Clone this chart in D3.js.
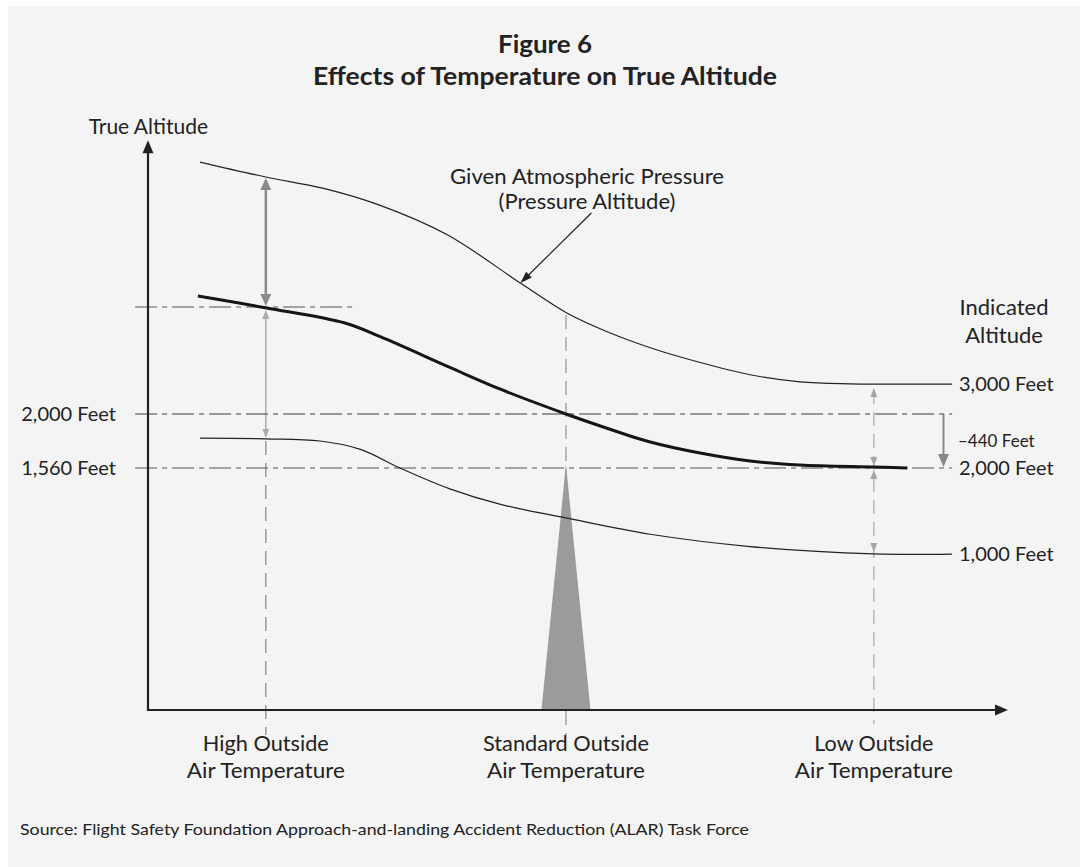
<!DOCTYPE html>
<html><head><meta charset="utf-8">
<script src="https://cdn.jsdelivr.net/npm/d3@7"></script>
<style>body{margin:0;background:#fff}svg{display:block}text{font-family:Lato,"Open Sans",sans-serif;fill:#222}</style>
</head><body><div id="chart"></div>
<script>
// ---- data ----
const title = ["Figure 6", "Effects of Temperature on True Altitude"];
const categories = [["High Outside","Air Temperature"],["Standard Outside","Air Temperature"],["Low Outside","Air Temperature"]];
const categoryPos = [13.7, 48.6, 84.4];           // position along temperature axis (0-100)
const indicatedLabels = ["3,000 Feet","2,000 Feet","1,000 Feet"];
// true altitude curves [temperature position, feet]
const curve3000 = [[6.05,4053],[13.7,3931],[20.3,3840],[27.0,3700],[34.8,3460],[43.3,3067],[48.7,2823],[53.4,2670],[58.4,2540],[64.2,2420],[70.0,2320],[75.8,2262],[81.6,2246],[93.5,2244]];
const curve2000 = [[5.8,2961],[13.8,2864],[22.9,2741],[27.0,2630],[35.1,2380],[40.9,2204],[48.6,2000],[52.6,1902],[58.4,1772],[64.2,1682],[70.0,1617],[75.8,1584],[84.4,1568],[88.3,1560]];
const curve1000 = [[6.05,1804],[13.7,1798],[20.0,1780],[24.7,1712],[29.3,1560],[35.1,1390],[40.9,1265],[48.6,1153],[58.4,1020],[70.0,920],[84.4,860],[93.5,859]];
const refLevels = [2000, 1560];                    // feet
const refLabels = ["2,000 Feet","1,560 Feet"];
const highLevel = 2872;                            // true altitude of 2,000 ft at high temp
const correction = "\u2013440 Feet";
const sourceText = "Source: Flight Safety Foundation Approach-and-landing Accident Reduction (ALAR) Task Force";

// ---- layout ----
const W = 1080, H = 867;
const svg = d3.select("#chart").append("svg").attr("width", W).attr("height", H);
svg.append("rect").attr("x", 8).attr("y", 6).attr("width", W - 8).attr("height", H - 6).attr("fill", "#f4f4f4");

const x = d3.scaleLinear().domain([0, 100]).range([148, 1008]);
const y = d3.scaleLinear().domain([1560, 2000]).range([468, 414]);
const yAxisBottom = -412, yAxisTop = 4230;

const g = svg.append("g");

function arrowHead(px, py, dir, len, wid, color) {
  let pts;
  if (dir === "up") pts = [[px, py], [px - wid / 2, py + len], [px + wid / 2, py + len]];
  if (dir === "down") pts = [[px, py], [px - wid / 2, py - len], [px + wid / 2, py - len]];
  if (dir === "right") pts = [[px, py], [px - len, py - wid / 2], [px - len, py + wid / 2]];
  g.append("path").attr("d", "M" + pts.map(p => p.join(",")).join("L") + "Z").attr("fill", color);
}

// triangle (standard temperature marker)
const triW = 2.85;
g.append("path")
  .attr("d", `M${x(categoryPos[1])},${y(1590)}L${x(categoryPos[1] - triW)},${y(yAxisBottom)}L${x(categoryPos[1] + triW)},${y(yAxisBottom)}Z`)
  .attr("fill", "#9b9b9b");

// dashed verticals
const dashBottom = y(yAxisBottom) + 25;
g.append("line").attr("x1", x(categoryPos[0])).attr("x2", x(categoryPos[0])).attr("y1", y(1796) + 2).attr("y2", dashBottom)
  .attr("stroke", "#8c8c8c").attr("stroke-width", 1.3).attr("stroke-dasharray", "14,8");
g.append("line").attr("x1", x(categoryPos[1])).attr("x2", x(categoryPos[1])).attr("y1", y(2823) + 2).attr("y2", dashBottom)
  .attr("stroke", "#9a9a9a").attr("stroke-width", 1.3).attr("stroke-dasharray", "14,8");
g.append("line").attr("x1", x(categoryPos[2])).attr("x2", x(categoryPos[2])).attr("y1", y(2244) + 6).attr("y2", y(yAxisBottom) + 14)
  .attr("stroke", "#b0b0b0").attr("stroke-width", 1.3).attr("stroke-dasharray", "14,8");

// arrows at high temp
const hx = x(categoryPos[0]);
g.append("line").attr("x1", hx).attr("x2", hx).attr("y1", y(3931) + 8).attr("y2", y(highLevel) - 8).attr("stroke", "#8a8a8a").attr("stroke-width", 2.5);
arrowHead(hx, y(3931) + 1, "up", 12, 11, "#8a8a8a");
arrowHead(hx, y(highLevel) - 1, "down", 12, 11, "#8a8a8a");
g.append("line").attr("x1", hx).attr("x2", hx).attr("y1", y(highLevel) + 6).attr("y2", y(1796) - 6).attr("stroke", "#ababab").attr("stroke-width", 1.5);
arrowHead(hx, y(highLevel) + 3, "up", 9, 7, "#ababab");
arrowHead(hx, y(1796) - 1, "down", 9, 7, "#ababab");

// arrows at low temp
const lx = x(categoryPos[2]);
arrowHead(lx, y(2244) + 4, "up", 9, 7, "#a5a5a5");
arrowHead(lx, y(1560) - 2, "down", 9, 7, "#a5a5a5");
arrowHead(lx, y(1560) + 2, "up", 9, 7, "#a5a5a5");
arrowHead(lx, y(859) - 2, "down", 9, 7, "#a5a5a5");

// -440 feet arrow
const cx = x(92.5);
g.append("line").attr("x1", cx).attr("x2", cx).attr("y1", y(2000)).attr("y2", y(1560) - 10).attr("stroke", "#888").attr("stroke-width", 2);
arrowHead(cx, y(1560) - 1, "down", 13, 11, "#888");

// dash-dot reference lines
g.append("line").attr("x1", x(-1.5)).attr("x2", x(24.3)).attr("y1", y(highLevel)).attr("y2", y(highLevel))
  .attr("stroke", "#555").attr("stroke-width", 1.2).attr("stroke-dasharray", "22,5,5,5");
refLevels.forEach((lv, i) => {
  g.append("line").attr("x1", x(-1.5)).attr("x2", x(93.5)).attr("y1", y(lv)).attr("y2", y(lv))
    .attr("stroke", i === 0 ? "#7a7a7a" : "#555").attr("stroke-width", i === 0 ? 1.6 : 1.2).attr("stroke-dasharray", "22,5,5,5");
});

// curves
const line = d3.line().x(d => x(d[0])).y(d => y(d[1])).curve(d3.curveCatmullRom.alpha(0.5));
g.append("path").attr("d", line(curve3000)).attr("fill", "none").attr("stroke", "#222").attr("stroke-width", 1.2);
g.append("path").attr("d", line(curve1000)).attr("fill", "none").attr("stroke", "#222").attr("stroke-width", 1.2);
g.append("path").attr("d", line(curve2000)).attr("fill", "none").attr("stroke", "#151515").attr("stroke-width", 3);

// axes
g.append("line").attr("x1", x(0)).attr("x2", x(0)).attr("y1", y(yAxisBottom)).attr("y2", y(yAxisTop) + 10).attr("stroke", "#222").attr("stroke-width", 2.2);
arrowHead(x(0), y(yAxisTop), "up", 13, 11, "#222");
g.append("line").attr("x1", x(0) - 1).attr("x2", x(100) - 10).attr("y1", y(yAxisBottom)).attr("y2", y(yAxisBottom)).attr("stroke", "#222").attr("stroke-width", 2.2);
arrowHead(x(100), y(yAxisBottom), "right", 13, 11, "#222");

// pointer arrow to pressure curve
const tipX = x(43.3), tipY = y(3067);
const fromX = tipX + 71, fromY = tipY - 70;
const ang = Math.atan2(tipY - fromY, tipX - fromX);
g.append("line").attr("x1", fromX).attr("x2", tipX - 9 * Math.cos(ang)).attr("y1", fromY).attr("y2", tipY - 9 * Math.sin(ang)).attr("stroke", "#222").attr("stroke-width", 1.2);
{
  const L = 12, Wd = 8;
  const bx = tipX - L * Math.cos(ang), by = tipY - L * Math.sin(ang);
  const nx = -Math.sin(ang) * Wd / 2, ny = Math.cos(ang) * Wd / 2;
  g.append("path").attr("d", `M${tipX},${tipY}L${bx + nx},${by + ny}L${bx - nx},${by - ny}Z`).attr("fill", "#222");
}

// texts
const FS = 22, FN = 20;
svg.append("text").attr("x", 545).attr("y", 53).attr("text-anchor", "middle").attr("font-size", 24).attr("font-weight", "bold").attr("fill", "#111")
  .attr("textLength", 94).attr("lengthAdjust", "spacingAndGlyphs").text(title[0]);
svg.append("text").attr("x", 545).attr("y", 85).attr("text-anchor", "middle").attr("font-size", 24).attr("font-weight", "bold").attr("fill", "#111")
  .attr("textLength", 464).attr("lengthAdjust", "spacingAndGlyphs").text(title[1]);

svg.append("text").attr("x", 208).attr("y", 134).attr("text-anchor", "end").attr("font-size", 21).text("True Altitude");

svg.append("text").attr("x", 587).attr("y", 184).attr("text-anchor", "middle").attr("font-size", 20.5)
  .attr("textLength", 274).attr("lengthAdjust", "spacingAndGlyphs").text("Given Atmospheric Pressure");
svg.append("text").attr("x", 587).attr("y", 209).attr("text-anchor", "middle").attr("font-size", 20.5)
  .attr("textLength", 177).attr("lengthAdjust", "spacingAndGlyphs").text("(Pressure Altitude)");

svg.append("text").attr("x", 1004).attr("y", 315).attr("text-anchor", "middle").attr("font-size", FS).text("Indicated");
svg.append("text").attr("x", 1004).attr("y", 343).attr("text-anchor", "middle").attr("font-size", FS).text("Altitude");

[2244, 1560, 859].forEach((lv, i) => {
  svg.append("text").attr("x", 959).attr("y", y(lv)).attr("dy", "0.35em").attr("font-size", FN).text(indicatedLabels[i]);
});
svg.append("text").attr("x", 958).attr("y", y(1780)).attr("dy", "0.35em").attr("font-size", 17).text(correction);

refLevels.forEach((lv, i) => {
  svg.append("text").attr("x", 116).attr("y", y(lv)).attr("dy", "0.35em").attr("text-anchor", "end").attr("font-size", FN).text(refLabels[i]);
});

categories.forEach((c, i) => {
  c.forEach((s, j) => {
    svg.append("text").attr("x", x(categoryPos[i])).attr("y", 751 + j * 27).attr("text-anchor", "middle").attr("font-size", 21)
      .attr("textLength", [[126, 158], [166, 158], [119, 158]][i][j]).attr("lengthAdjust", "spacingAndGlyphs").text(s);
  });
});

svg.append("text").attr("x", 20).attr("y", 835).attr("font-size", 15).attr("fill", "#222").attr("textLength", 729).attr("lengthAdjust", "spacingAndGlyphs").text(sourceText);
</script></body></html>
